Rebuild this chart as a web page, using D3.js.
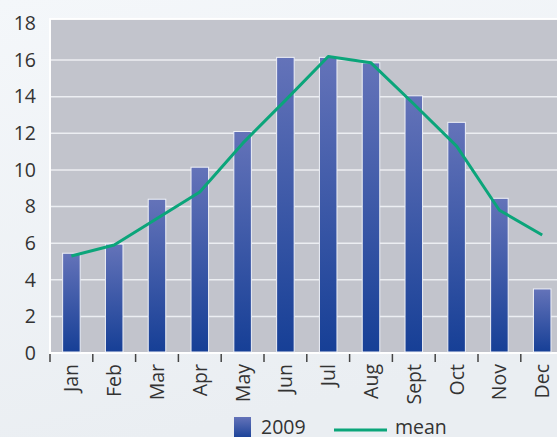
<!DOCTYPE html>
<html>
<head>
<meta charset="utf-8">
<script src="https://cdn.jsdelivr.net/npm/d3@7"></script>
<style>
  body { margin: 0; }
  svg { display: block; font-family: "Open Sans", "Noto Sans", sans-serif; }
</style>
</head>
<body>
<svg width="557" height="437"></svg>
<script>
const months = ["Jan", "Feb", "Mar", "Apr", "May", "Jun", "Jul", "Aug", "Sept", "Oct", "Nov", "Dec"];
const values2009 = [5.45, 5.95, 8.4, 10.15, 12.1, 16.15, 16.15, 15.85, 14.05, 12.6, 8.45, 3.5];
const meanValues = [5.3, 5.9, 7.35, 8.8, 11.45, 13.8, 16.2, 15.85, 13.6, 11.3, 7.8, 6.45];
const yTicks = [0, 2, 4, 6, 8, 10, 12, 14, 16, 18];

const svg = d3.select("svg");
const W = 557, H = 437;

const defs = svg.append("defs");
const bg = defs.append("linearGradient").attr("id", "bg").attr("x1", 0).attr("y1", 0).attr("x2", 0.3).attr("y2", 1);
bg.append("stop").attr("offset", 0).attr("stop-color", "#f4f7fa");
bg.append("stop").attr("offset", 1).attr("stop-color", "#eaeef2");

const barGrad = defs.append("linearGradient").attr("id", "bar").attr("x1", 0).attr("y1", 0).attr("x2", 0).attr("y2", 1);
barGrad.append("stop").attr("offset", 0).attr("stop-color", "#6473b9");
barGrad.append("stop").attr("offset", 1).attr("stop-color", "#163f96");

svg.append("rect").attr("width", W).attr("height", H).attr("fill", "url(#bg)");

// scales
const x = d3.scaleBand().domain(months).range([50, 50 + 12 * 42.8])
  .paddingInner(0.59).paddingOuter(0.295);
const y = d3.scaleLinear().domain([0, 18]).range([353, 23.5]);

// plot area
const plotTop = y(18.25);
svg.append("rect")
  .attr("x", 50).attr("y", plotTop)
  .attr("width", W - 50 + 2).attr("height", y(0) - plotTop)
  .attr("fill", "#c2c4cc")
  .attr("stroke", "#ffffff").attr("stroke-width", 2);

// gridlines
svg.append("g").selectAll("line")
  .data(yTicks.filter(d => d > 0 && d < 18))
  .join("line")
  .attr("x1", 51).attr("x2", W)
  .attr("y1", d => y(d)).attr("y2", d => y(d))
  .attr("stroke", "#eceef2").attr("stroke-width", 1.5);

// y axis labels
const yAxis = svg.append("g")
  .attr("transform", "translate(36,0)")
  .call(d3.axisLeft(y).tickValues(yTicks).tickSize(0).tickPadding(0));
yAxis.select(".domain").remove();
yAxis.selectAll("text")
  .attr("font-size", 19.5)
  .attr("font-family", "Open Sans, Noto Sans, sans-serif")
  .attr("fill", "#333");

// bars
svg.append("g").selectAll("rect")
  .data(values2009)
  .join("rect")
  .attr("x", (d, i) => x(months[i]))
  .attr("y", d => y(d))
  .attr("width", x.bandwidth())
  .attr("height", d => y(0) - y(d) - 1)
  .attr("fill", "url(#bar)")
  .attr("stroke", "#eef0f6").attr("stroke-width", 1);

// mean line
const line = d3.line()
  .x((d, i) => x(months[i]) + x.bandwidth() / 2)
  .y(d => y(d));
svg.append("path")
  .datum(meanValues)
  .attr("d", line)
  .attr("fill", "none")
  .attr("stroke", "#0ba57a")
  .attr("stroke-width", 3)
  .attr("stroke-linejoin", "round");

// x ticks on category boundaries
const step = x.step();
const bounds = months.map(m => x(m) - (step - x.bandwidth()) / 2).concat([x(months[11]) + x.bandwidth() + (step - x.bandwidth()) / 2]);
svg.append("g").selectAll("line")
  .data(bounds)
  .join("line")
  .attr("x1", d => d).attr("x2", d => d)
  .attr("y1", y(0) + 1).attr("y2", y(0) + 9)
  .attr("stroke", "#444").attr("stroke-width", 1.5);

// x labels, rotated
svg.append("g").selectAll("text")
  .data(months)
  .join("text")
  .attr("transform", d => `translate(${x(d) + x.bandwidth() / 2 + 7},${y(0) + 11}) rotate(-90)`)
  .attr("text-anchor", "end")
  .attr("font-size", 19.5)
  .attr("fill", "#333")
  .text(d => d);

// legend
const legend = svg.append("g");
legend.append("rect")
  .attr("x", 234).attr("y", 417).attr("width", 17).attr("height", 22)
  .attr("fill", "url(#bar)");
legend.append("text")
  .attr("x", 261).attr("y", 434)
  .attr("font-size", 19.5).attr("fill", "#333")
  .text("2009");
legend.append("line")
  .attr("x1", 334).attr("x2", 387).attr("y1", 430).attr("y2", 430)
  .attr("stroke", "#0ba57a").attr("stroke-width", 3);
legend.append("text")
  .attr("x", 395).attr("y", 434)
  .attr("font-size", 19.5).attr("fill", "#333")
  .text("mean");
</script>
</body>
</html>
